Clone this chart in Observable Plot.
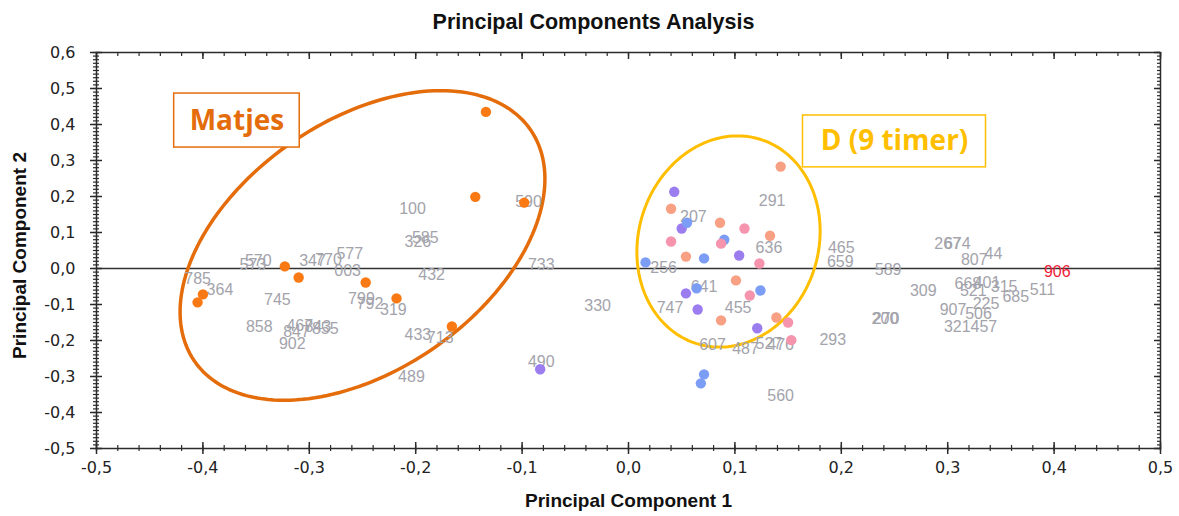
<!DOCTYPE html>
<html><head><meta charset="utf-8">
<script src="https://cdn.jsdelivr.net/npm/d3@7"></script>
<script src="https://cdn.jsdelivr.net/npm/@observablehq/plot@0.6"></script>
<style>body{margin:0;background:#fff} svg{display:block}</style>
</head><body><div id="chart"></div>
<script>
// ---- data ----
const matjesPts = [[-0.134,0.435],[-0.144,0.199],[-0.098,0.183],[-0.323,0.006],[-0.310,-0.025],[-0.247,-0.039],[-0.218,-0.083],[-0.166,-0.161],[-0.400,-0.072],[-0.405,-0.094]];
const purplePts = [[0.043,0.213],[0.050,0.111],[0.104,0.036],[0.054,-0.069],[0.065,-0.114],[0.121,-0.166],[-0.083,-0.280]];
const bluePts = [[0.055,0.127],[0.090,0.080],[0.071,0.028],[0.016,0.017],[0.064,-0.055],[0.124,-0.061],[0.071,-0.294],[0.068,-0.319]];
const salmonPts = [[0.143,0.283],[0.040,0.166],[0.086,0.127],[0.133,0.091],[0.054,0.033],[0.101,-0.033],[0.087,-0.144],[0.139,-0.136]];
const pinkPts = [[0.109,0.111],[0.087,0.069],[0.040,0.075],[0.123,0.014],[0.114,-0.075],[0.150,-0.150],[0.153,-0.199]];

const labelNames = ["570","573","347","770","577","003","100","585","326","432","785","364","745","799","792","319","858","467","843","855","847","902","433","713","489","590","733","330","490","291","207","636","256","641","747","455","607","487","527","476","560","293","465","659","589","309","200","270","267","674","807","44","668","401","315","521","685","511","225","907","506","321","457","906"];
const labelX = [-0.348,-0.353,-0.297,-0.282,-0.262,-0.264,-0.203,-0.191,-0.198,-0.185,-0.405,-0.384,-0.330,-0.251,-0.243,-0.221,-0.347,-0.309,-0.292,-0.285,-0.312,-0.316,-0.198,-0.177,-0.204,-0.094,-0.082,-0.029,-0.082,0.135,0.061,0.132,0.033,0.071,0.039,0.103,0.079,0.110,0.132,0.143,0.143,0.192,0.200,0.199,0.244,0.277,0.241,0.242,0.300,0.309,0.325,0.343,0.319,0.337,0.353,0.324,0.364,0.389,0.336,0.305,0.329,0.309,0.334,0.403];
const labelY = [0.022,0.011,0.022,0.025,0.042,-0.006,0.166,0.086,0.075,-0.017,-0.030,-0.058,-0.086,-0.083,-0.097,-0.116,-0.161,-0.158,-0.161,-0.169,-0.175,-0.208,-0.183,-0.194,-0.302,0.186,0.011,-0.105,-0.258,0.188,0.144,0.058,0.003,-0.050,-0.108,-0.108,-0.211,-0.224,-0.208,-0.213,-0.355,-0.199,0.058,0.019,-0.003,-0.061,-0.139,-0.139,0.069,0.069,0.025,0.042,-0.042,-0.039,-0.050,-0.061,-0.080,-0.058,-0.097,-0.116,-0.125,-0.161,-0.161,-0.008];
const highlightLabel = "906";

const xTicks = [-0.5,-0.4,-0.3,-0.2,-0.1,0,0.1,0.2,0.3,0.4,0.5];
const yTicks = [-0.5,-0.4,-0.3,-0.2,-0.1,0,0.1,0.2,0.3,0.4,0.5,0.6];

// ---- layout ----
const W = 1179, H = 516, mL = 96, mR = 19, mT = 52, mB = 68;
const xDom = [-0.5, 0.5], yDom = [-0.5, 0.6];
const kx = (W - mL - mR) / (xDom[1] - xDom[0]); // px per unit
const ky = (H - mT - mB) / (yDom[1] - yDom[0]);
const fmt = d => (Math.round(d * 10) / 10).toFixed(1).replace(".", ",").replace("-0,0", "0,0");

const cOrange = "#f97a14", cPurple = "#9b7df0", cBlue = "#7b9df6", cSalmon = "#f8a083", cPink = "#f693ad";
const points = [
  ...matjesPts.map(([x,y]) => ({x, y, c: cOrange})),
  ...purplePts.map(([x,y]) => ({x, y, c: cPurple})),
  ...bluePts.map(([x,y]) => ({x, y, c: cBlue})),
  ...salmonPts.map(([x,y]) => ({x, y, c: cSalmon})),
  ...pinkPts.map(([x,y]) => ({x, y, c: cPink}))
];
const labels = labelNames.map((t, i) => ({t, x: labelX[i], y: labelY[i], c: t === highlightLabel ? "#ee1c3a" : "#a3a3ab"}));

// annotation ellipses (center in data units, axes in px, angle in degrees)
const ellipseSpecs = [
  {cx: -0.250, cy: 0.064, a: 204, b: 125, ang: 34.5, color: "#e46c0a", w: 3.5},
  {cx: 0.094, cy: 0.075, a: 107, b: 90, ang: 72.7, color: "#ffbf00", w: 3}
];
const ellipsePts = [];
ellipseSpecs.forEach((e, k) => {
  const th = e.ang * Math.PI / 180;
  for (let i = 0; i <= 180; i++) {
    const p = i / 180 * 2 * Math.PI;
    const px = e.a * Math.cos(p) * Math.cos(th) - e.b * Math.sin(p) * Math.sin(th);
    const py = e.a * Math.cos(p) * Math.sin(th) + e.b * Math.sin(p) * Math.cos(th);
    ellipsePts.push({k, x: e.cx + px / kx, y: e.cy + py / ky, color: e.color, w: e.w});
  }
});
const boxes = [
  {x1: -0.427, x2: -0.309, y1: 0.336, y2: 0.486, color: "#e46c0a", text: "Matjes", tx: -0.368, ty: 0.411},
  {x1: 0.164, x2: 0.336, y1: 0.281, y2: 0.425, color: "#ffbf00", text: "D (9 timer)", tx: 0.250, ty: 0.353}
];

const xMinor = d3.range(-25, 26).map(i => i / 50);
const yMinor = d3.range(-50, 61).map(i => i / 100);
const xb = yDom[0], yl = xDom[0], yt = yDom[1], xr = xDom[1];
const ax = "#2b2b2b";
const tickFont = "'DejaVu Sans', Verdana, sans-serif";

const chart = Plot.plot({
  width: W, height: H,
  marginLeft: mL, marginRight: mR, marginTop: mT, marginBottom: mB,
  x: {domain: xDom},
  y: {domain: yDom},
  color: {type: "identity"},
  style: {fontFamily: "'Liberation Sans', Arial, sans-serif", background: "#fff"},
  marks: [
    Plot.ruleY([0], {stroke: "#333", strokeWidth: 1.5}),
    // ellipses
    Plot.line(ellipsePts, {x: "x", y: "y", z: "k", stroke: "color", strokeWidth: d => d.w, curve: "linear"}),
    // labels
    Plot.text(labels, {x: "x", y: "y", text: "t", fill: "c", fontSize: 16}),
    // points
    Plot.dot(points, {x: "x", y: "y", fill: "c", r: 5.2, stroke: "none"}),
    // annotation boxes
    Plot.rect(boxes, {x1: "x1", x2: "x2", y1: "y1", y2: "y2", fill: "white", stroke: "color", strokeWidth: 1.5}),
    Plot.text(boxes, {x: "tx", y: "ty", text: "text", fill: "color", fontSize: 28, fontWeight: "bold", fontFamily: "'Open Sans', sans-serif"}),
    // frame
    Plot.frame({stroke: ax, strokeWidth: 1.5}),
    // bottom ticks (crossing)
    Plot.ruleX(xTicks, {x: d => d, y1: xb - 6 / ky, y2: xb + 6 / ky, stroke: ax, strokeWidth: 1.5}),
    Plot.ruleX(xMinor, {x: d => d, y1: xb - 3 / ky, y2: xb + 3 / ky, stroke: ax, strokeWidth: 1.2}),
    // top ticks (inward)
    Plot.ruleX(xTicks, {x: d => d, y1: yt, y2: yt - 7 / ky, stroke: ax, strokeWidth: 1.5}),
    Plot.ruleX(xMinor, {x: d => d, y1: yt, y2: yt - 4 / ky, stroke: ax, strokeWidth: 1.2}),
    // left ticks (crossing)
    Plot.ruleY(yTicks, {y: d => d, x1: yl - 6 / kx, x2: yl + 6 / kx, stroke: ax, strokeWidth: 1.5}),
    Plot.ruleY(yMinor, {y: d => d, x1: yl - 3 / kx, x2: yl + 3 / kx, stroke: ax, strokeWidth: 1.2}),
    // right ticks (inward)
    Plot.ruleY(yTicks, {y: d => d, x1: xr, x2: xr - 6 / kx, stroke: ax, strokeWidth: 1.5}),
    Plot.ruleY(yMinor, {y: d => d, x1: xr, x2: xr - 3 / kx, stroke: ax, strokeWidth: 1.2}),
    // axes labels
    Plot.axisX(xTicks, {tickSize: 0, tickPadding: 13, tickFormat: fmt, fontSize: 16, fontFamily: tickFont, color: "#222", label: null}),
    Plot.axisY(yTicks, {tickSize: 0, tickPadding: 21, tickFormat: fmt, fontSize: 16, fontFamily: tickFont, color: "#222", label: null}),
    Plot.text(["Principal Component 1"], {frameAnchor: "bottom", lineAnchor: "middle", dy: 52, text: d => d, fontWeight: "bold", fontSize: 19, fill: "#111"}),
    Plot.text(["Principal Component 2"], {frameAnchor: "left", textAnchor: "middle", lineAnchor: "middle", dx: -77, dy: 5, rotate: -90, text: d => d, fontWeight: "bold", fontSize: 19, fill: "#111"}),
    Plot.text(["Principal Components Analysis"], {frameAnchor: "top", lineAnchor: "middle", dy: -30, dx: -35, text: d => d, fontWeight: "bold", fontSize: 21.5, fill: "#111"})
  ]
});
document.getElementById("chart").appendChild(chart);
</script>
</body></html>
